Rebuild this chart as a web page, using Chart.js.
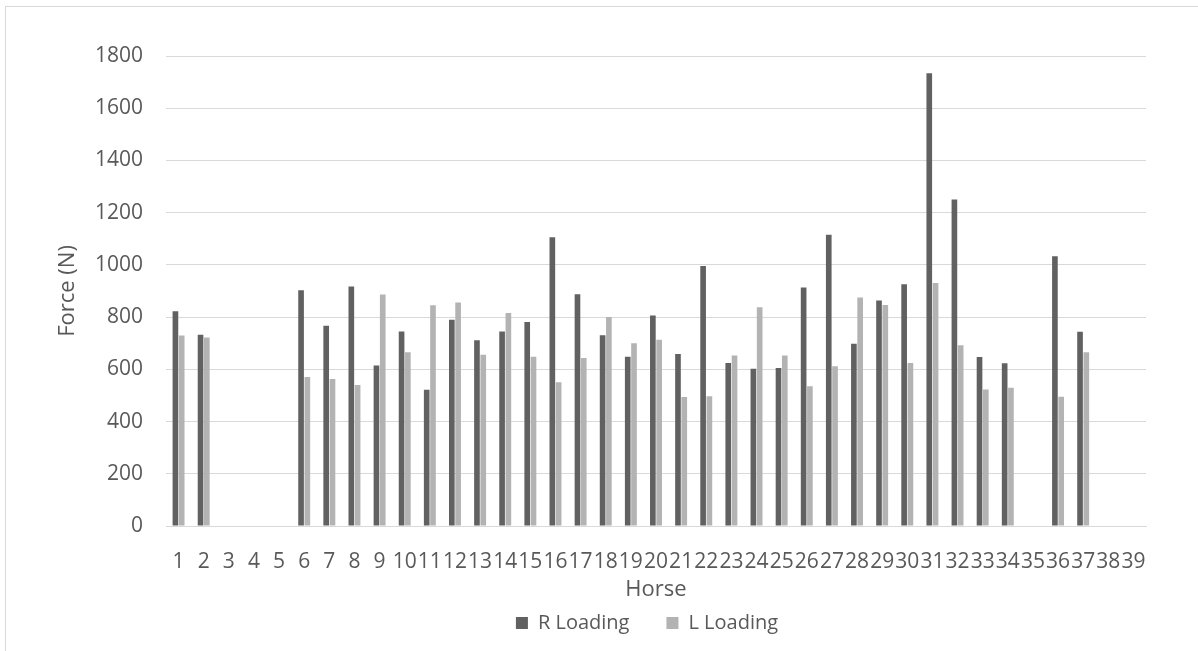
<!DOCTYPE html>
<html>
<head>
<meta charset="utf-8">
<script src="https://cdn.jsdelivr.net/npm/chart.js@4/dist/chart.umd.min.js"></script>
<style>
  html, body { margin: 0; padding: 0; background: #ffffff; }
  #frame {
    position: absolute; left: 5px; top: 6px; width: 1300px; height: 800px;
    border-left: 1px solid #d9d9d9; border-top: 1px solid #d9d9d9;
    box-sizing: border-box;
  }
  #wrap { position: absolute; left: 0; top: 0; width: 1198px; height: 651px; }
</style>
</head>
<body>
<div id="frame"></div>
<div id="wrap"><canvas id="chart" width="1198" height="651"></canvas></div>
<script>
// Horse numbers along the x axis
const horses = ['1','2','3','4','5','6','7','8','9','10','11','12','13','14','15','16','17','18','19','20',
                '21','22','23','24','25','26','27','28','29','30','31','32','33','34','35','36','37','38','39'];

// Peak loading force per horse, in newtons (null = not measured)
const rLoading = [822, 732, null, null, null, 903, 767, 917, 615, 745,
                  522, 790, 711, 745, 781, 1106, 888, 731, 648, 806,
                  659, 996, 624, 602, 605, 913, 1115, 698, 864, 926,
                  1734, 1250, 647, 623, null, 1033, 744, null, null];
const lLoading = [730, 722, null, null, null, 571, 563, 540, 887, 665,
                  845, 856, 656, 816, 648, 551, 643, 800, 700, 713,
                  494, 497, 653, 838, 653, 535, 612, 875, 846, 624,
                  931, 692, 523, 529, null, 495, 665, null, null];

// Value axis ticks
const yTicks = [0, 200, 400, 600, 800, 1000, 1200, 1400, 1600, 1800];

const textColor = '#595959';
const gridColor = '#d9d9d9';
const fontFamily = '"Open Sans", "Noto Sans", sans-serif';

// Nudge the legend row so it sits under the middle of the plot
const legendShift = {
  id: 'legendShift',
  afterLayout(chart) {
    const lg = chart.legend;
    if (lg) { lg.left -= 9; lg.right -= 9; }
  }
};

new Chart(document.getElementById('chart'), {
  type: 'bar',
  data: {
    labels: horses,
    datasets: [
      { label: 'R Loading', data: rLoading, backgroundColor: '#616161',
        categoryPercentage: 0.5, barPercentage: 0.9 },
      { label: 'L Loading', data: lLoading, backgroundColor: '#b3b3b3',
        categoryPercentage: 0.5, barPercentage: 0.9 }
    ]
  },
  plugins: [legendShift],
  options: {
    responsive: false,
    animation: false,
    layout: { padding: { left: 55, right: 52, top: 56, bottom: 8 } },
    plugins: {
      tooltip: { enabled: false },
      legend: {
        position: 'bottom',
        fullSize: false,
        labels: {
          color: textColor,
          font: { family: fontFamily, size: 20 },
          boxWidth: 12, boxHeight: 12,
          padding: 37
        }
      }
    },
    scales: {
      x: {
        grid: { display: false, drawTicks: false },
        border: { display: true, color: gridColor, width: 1 },
        afterFit: (scale) => { scale.height = 50; },
        ticks: {
          color: textColor, font: { family: fontFamily, size: 21 },
          padding: 23, maxRotation: 0, minRotation: 0, autoSkip: false
        },
        title: {
          display: true, text: 'Horse', color: textColor,
          font: { family: fontFamily, size: 22 },
          padding: { top: 0, bottom: -27 }
        }
      },
      y: {
        min: 0, max: 1800,
        afterBuildTicks: (scale) => { scale.ticks = yTicks.map(v => ({ value: v })); },
        afterFit: (scale) => { scale.width = 111; },
        grid: { color: gridColor, lineWidth: 1, drawTicks: false },
        border: { display: false },
        ticks: {
          color: textColor, font: { family: fontFamily, size: 21 },
          padding: 23,
          callback: (v) => String(v)
        },
        title: {
          display: true, text: 'Force (N)', color: textColor,
          font: { family: fontFamily, size: 22 },
          padding: { top: 0, bottom: 14 }
        }
      }
    }
  }
});
</script>
</body>
</html>
